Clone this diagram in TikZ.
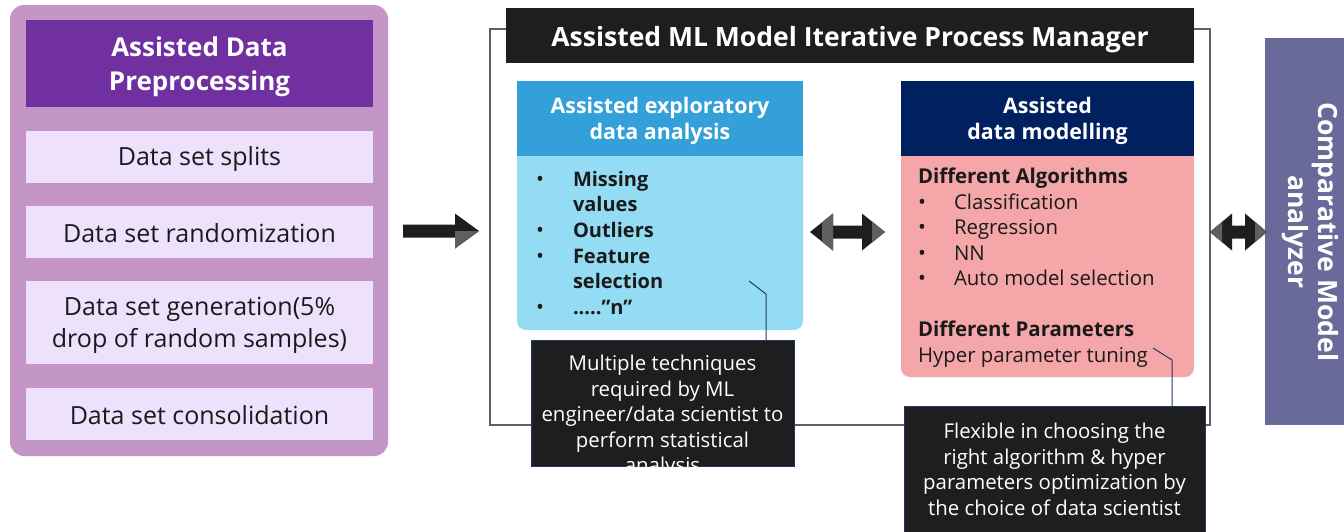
\documentclass[tikz,border=0pt]{standalone}
\usepackage{fontspec}
\setmainfont{Open Sans}
\usetikzlibrary{calc}

\definecolor{prepouter}{RGB}{196,150,199}
\definecolor{prephead}{RGB}{112,48,160}
\definecolor{prepitem}{RGB}{237,225,252}
\definecolor{inkdark}{RGB}{30,30,30}
\definecolor{edahead}{RGB}{52,160,218}
\definecolor{edabody}{RGB}{148,220,244}
\definecolor{modhead}{RGB}{0,32,96}
\definecolor{modbody}{RGB}{244,166,168}
\definecolor{cmpbox}{RGB}{106,106,154}
\definecolor{framegray}{RGB}{96,96,96}
\definecolor{calloutline}{RGB}{32,56,100}
\definecolor{arrgray}{RGB}{95,95,95}
\definecolor{textdark}{RGB}{26,26,26}

\newcommand\edabul{\makebox[37pt][l]{\mdseries\fontsize{21}{21}\selectfont •}}
\newcommand\modbul{\makebox[36pt][l]{\fontsize{21}{21}\selectfont •}}

\begin{document}
\begin{tikzpicture}[x=1pt,y=-1pt,
  panel/.style={inner sep=0pt, outer sep=0pt, draw=none},
  txt/.style={inner sep=0pt, outer sep=0pt, align=center},
  headtxt/.style={txt, text=white, font=\bfseries\fontsize{26}{34}\selectfont},
  itemtxt/.style={txt, text=textdark, font=\fontsize{25}{32}\selectfont},
  subhdr/.style={txt, text=white, font=\bfseries\fontsize{21.4}{26.5}\selectfont},
  listtxt/.style={inner sep=0pt, outer sep=0pt, align=left, text=textdark},
  calltxt/.style={txt, text=white, font=\fontsize{20.4}{25.6}\selectfont},
  callline/.style={draw=calloutline, line width=1pt},
]
\useasboundingbox (0,0) rectangle (1344,531);
\fill[white] (0,0) rectangle (1344,531);

% ---- data preprocessing panel
\node[panel, fill=prepouter, rounded corners=14pt, minimum width=378pt, minimum height=451pt] (prep) at (199,230.5) {};
\node[panel, fill=prephead, minimum width=347pt, minimum height=87pt] (prephdr) at (199.5,63.5) {};
\node[headtxt] (prephdr-t) at (199.5,67) {Assisted Data\\Preprocessing};
\node[panel, fill=prepitem, minimum width=347pt, minimum height=52pt] (splits) at (199.5,157) {};
\node[itemtxt] (splits-t) at (199.5,158.5) {Data set splits};
\node[panel, fill=prepitem, minimum width=347pt, minimum height=52pt] (random) at (199.5,232) {};
\node[itemtxt] (random-t) at (199.5,233.5) {Data set randomization};
\node[panel, fill=prepitem, minimum width=347pt, minimum height=83pt] (gen) at (199.5,322.5) {};
\node[itemtxt] (gen-t) at (199.5,325) {Data set generation(5\%\\drop of random samples)};
\node[panel, fill=prepitem, minimum width=347pt, minimum height=52pt] (consol) at (199.5,414) {};
\node[itemtxt] (consol-t) at (199.5,415.5) {Data set consolidation};

% ---- iterative process manager frame
\node[panel, draw=framegray, line width=1.3pt, minimum width=720pt, minimum height=396pt] (frame) at (850,227) {};
\node[panel, fill=inkdark, minimum width=688pt, minimum height=55pt] (title) at (850,35.5) {};
\node[txt, text=white, font=\bfseries\fontsize{26.5}{30}\selectfont] (title-t) at (850,39.5) {Assisted ML Model Iterative Process Manager};

% exploratory data analysis
\node[panel, fill=edabody, rounded corners=9pt, minimum width=286pt, minimum height=180pt] (edab) at (660,240) {};
\node[panel, fill=edahead, minimum width=286pt, minimum height=75pt] (edah) at (660,118.5) {};
\node[subhdr] (edah-t) at (660,121) {Assisted exploratory\\data analysis};
\node[listtxt, anchor=north west, font=\bfseries\fontsize{20}{25.6}\selectfont] (edalist) at (536,171)
  {\edabul Missing\\ \hspace*{37pt}values\\ \edabul Outliers\\ \edabul Feature\\ \hspace*{37pt}selection\\ \edabul .....”n”};

% data modelling
\node[panel, fill=modbody, rounded corners=9pt, minimum width=293pt, minimum height=227pt] (modb) at (1047.5,263.5) {};
\node[panel, fill=modhead, minimum width=293pt, minimum height=75pt] (modh) at (1047.5,118.5) {};
\node[subhdr] (modh-t) at (1047.5,121) {Assisted\\data modelling};
\node[listtxt, anchor=north west, font=\fontsize{20.4}{25.5}\selectfont] (modlist) at (918,168)
  {\textbf{Different Algorithms}\\ \modbul Classification\\ \modbul Regression\\ \modbul NN\\ \modbul Auto model selection\\[25.5pt]
   \textbf{Different Parameters}\\ Hyper parameter tuning};

% ---- comparative model analyzer
\node[panel, fill=cmpbox, minimum width=79pt, minimum height=387pt] (cmp) at (1304.5,231.5) {};
\node[rotate=-90, txt, text=white, font=\bfseries\fontsize{26.5}{30}\selectfont] (cmplbl) at (1310,232) {Comparative Model\\analyzer};

% ---- callouts
\node[panel, fill=inkdark, draw=calloutline, line width=1pt, minimum width=263pt, minimum height=126pt] (call1) at (662.5,403) {};
\begin{scope}
  \clip (call1.south west) rectangle (call1.north east);
  \node[calltxt, anchor=north] (call1txt) at (662.5,355)
    {Multiple techniques\\required by ML\\engineer/data scientist to\\perform statistical\\analysis};
\end{scope}
\coordinate (c1k) at (766,294);
\coordinate (c1t) at (749,281);
\draw[callline] (call1.north -| c1k) -- (c1k) -- (c1t);

\node[panel, fill=inkdark, draw=calloutline, line width=1pt, minimum width=301pt, minimum height=140pt] (call2) at (1054.5,476) {};
\node[calltxt, anchor=north] (call2txt) at (1054.5,423)
  {Flexible in choosing the\\right algorithm \& hyper\\parameters optimization by\\the choice of data scientist};
\coordinate (c2k) at (1172,360);
\coordinate (c2t) at (1153,348);
\draw[callline] (call2.north -| c2k) -- (c2k) -- (c2t);

% ---- block arrows
\coordinate (aAs) at (403,231);
\coordinate (aAe) at (479,231);
\fill[inkdark] let \p1=(aAs), \p2=(aAe) in
  (\x1,\y1+6.5pt) -- (\x2-24pt,\y1+6.5pt) -- (\x2-24pt,\y1+17.5pt) -- (\x2,\y1)
  -- (\x2-24pt,\y1-17.5pt) -- (\x2-24pt,\y1-6.5pt) -- (\x1,\y1-6.5pt) -- cycle;
\fill[arrgray] let \p1=(aAs), \p2=(aAe) in
  (\x2-24pt,\y1) -- (\x2,\y1) -- (\x2-24pt,\y1-17.5pt) -- cycle;

\coordinate (bL) at (810,232);
\coordinate (bR) at (885,232);
\fill[inkdark] let \p1=(bL), \p2=(bR) in
  (\x1,\y1) -- (\x1+23pt,\y1+18.5pt) -- (\x1+23pt,\y1+6.5pt) -- (\x2-23pt,\y1+6.5pt)
  -- (\x2-23pt,\y1+18.5pt) -- (\x2,\y1) -- (\x2-23pt,\y1-18.5pt) -- (\x2-23pt,\y1-6.5pt)
  -- (\x1+23pt,\y1-6.5pt) -- (\x1+23pt,\y1-18.5pt) -- cycle;
\fill[arrgray] let \p1=(bL), \p2=(bR) in
  (\x1+12pt,\y1+9.65pt) -- (\x1+23pt,\y1+18.5pt) -- (\x1+23pt,\y1-18.5pt) -- (\x1+12pt,\y1-9.65pt) -- cycle
  (\x2-13pt,\y1+10.46pt) -- (\x2,\y1) -- (\x2-13pt,\y1-10.46pt) -- cycle;

\coordinate (cL) at (1210,232);
\coordinate (cR) at (1267,232);
\fill[inkdark] let \p1=(cL), \p2=(cR) in
  (\x1,\y1) -- (\x1+22pt,\y1+18.5pt) -- (\x1+22pt,\y1+6.5pt) -- (\x2-22pt,\y1+6.5pt)
  -- (\x2-22pt,\y1+18.5pt) -- (\x2,\y1) -- (\x2-22pt,\y1-18.5pt) -- (\x2-22pt,\y1-6.5pt)
  -- (\x1+22pt,\y1-6.5pt) -- (\x1+22pt,\y1-18.5pt) -- cycle;
\fill[arrgray] let \p1=(cL), \p2=(cR) in
  (\x1,\y1) -- (\x1+12pt,\y1+10.1pt) -- (\x1+12pt,\y1-10.1pt) -- cycle
  (\x2,\y1) -- (\x2-12pt,\y1+10.1pt) -- (\x2-12pt,\y1-10.1pt) -- cycle;
\end{tikzpicture}
\end{document}
